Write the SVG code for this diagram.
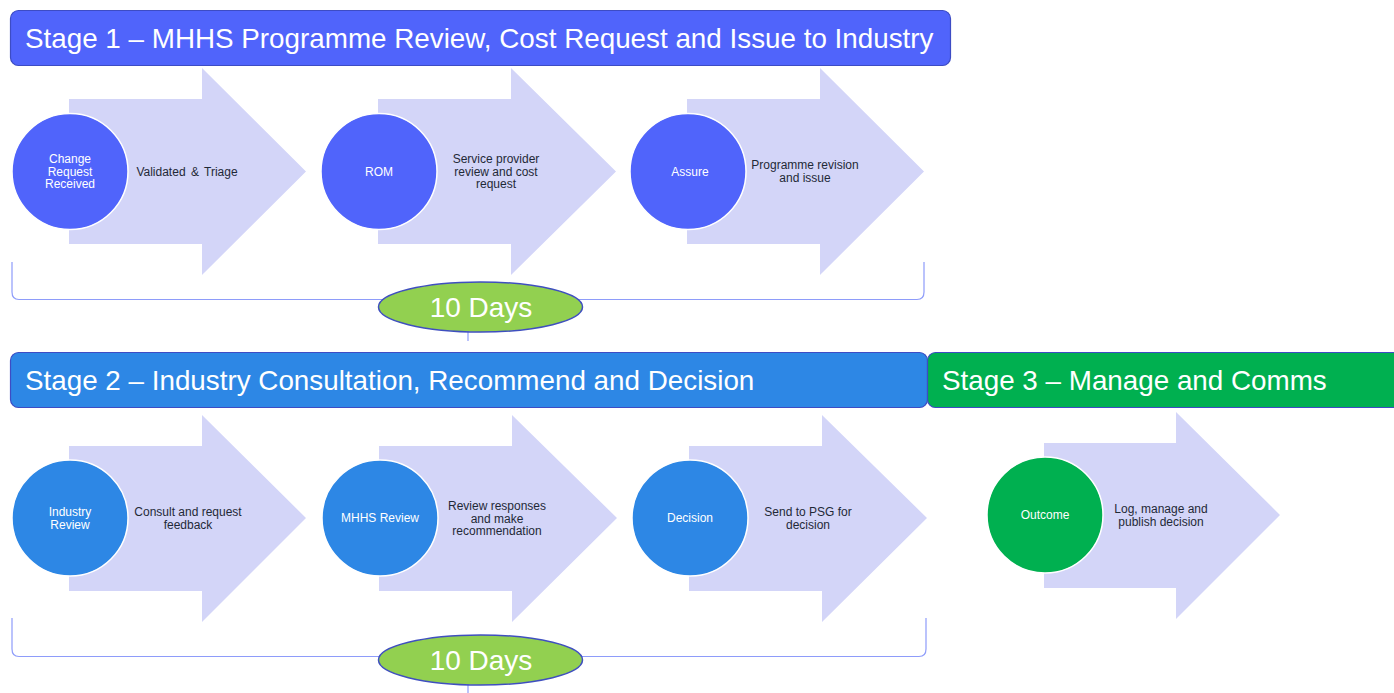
<svg xmlns="http://www.w3.org/2000/svg" width="1394" height="693" viewBox="0 0 1394 693">
<defs>
<style>
.hdr{stroke:#3D4CC4;stroke-width:1.2}
.htxt{font-family:"Liberation Sans",Arial,sans-serif;font-size:27.8px;fill:#fff}
.arr{fill:#D3D5F8}
.circ{stroke:#fff;stroke-width:1.5}
.ctxt{font-family:"Liberation Sans",Arial,sans-serif;font-size:12px;fill:#fff;text-anchor:middle}
.atxt{font-family:"Liberation Sans",Arial,sans-serif;font-size:12px;fill:#1F2937;text-anchor:middle}
.brk{fill:none;stroke:#8E9CFA;stroke-width:1.2}
.ell{fill:#92D050;stroke:#3F4FBF;stroke-width:1.5}
.etxt{font-family:"Liberation Sans",Arial,sans-serif;font-size:28px;fill:#fff;text-anchor:middle}
</style>
</defs>
<rect width="1394" height="693" fill="#fff"/>
<g id="stage1">
<rect class="hdr" x="10.5" y="10.5" width="940" height="55" rx="8" fill="#5064FB"/>
<text class="htxt" x="25" y="48">Stage 1 – MHHS Programme Review, Cost Request and Issue to Industry</text>
</g>
<g id="s1-step1">
<polygon class="arr" points="69,99 202,99 202,68 306,171.5 202,275 202,244 69,244"/>
<circle class="circ" cx="70" cy="171.5" r="58" fill="#5064FB"/>
<text class="ctxt" x="70" y="163">Change</text>
<text class="ctxt" x="70" y="175.5">Request</text>
<text class="ctxt" x="70" y="188">Received</text>
<text class="atxt" x="187" y="175.5" word-spacing="2">Validated &amp; Triage</text>
</g>
<g id="s1-step2">
<polygon class="arr" points="378,99 511,99 511,68 616,171.5 511,275 511,244 378,244"/>
<circle class="circ" cx="379" cy="171.5" r="58" fill="#5064FB"/>
<text class="ctxt" x="379" y="175.5">ROM</text>
<text class="atxt" x="496" y="163">Service provider</text>
<text class="atxt" x="496" y="175.5">review and cost</text>
<text class="atxt" x="496" y="188">request</text>
</g>
<g id="s1-step3">
<polygon class="arr" points="687,99 820,99 820,68 924,171.5 820,275 820,244 687,244"/>
<circle class="circ" cx="688" cy="171.5" r="58" fill="#5064FB"/>
<text class="ctxt" x="690" y="175.5">Assure</text>
<text class="atxt" x="805" y="169">Programme revision</text>
<text class="atxt" x="805" y="182">and issue</text>
</g>
<g id="stage2">
<rect class="hdr" x="10.5" y="352.5" width="917" height="55" rx="8" fill="#2D87E5"/>
<text class="htxt" x="25" y="390">Stage 2 – Industry Consultation, Recommend and Decision</text>
</g>
<g id="stage3">
<rect class="hdr" x="927.5" y="352.5" width="480" height="55" rx="8" fill="#00B050"/>
<text class="htxt" x="942" y="390">Stage 3 – Manage and Comms</text>
</g>
<g id="s2-step1">
<polygon class="arr" points="69,446 202,446 202,415 306,518 202,622 202,591 69,591"/>
<circle class="circ" cx="70" cy="518" r="58" fill="#2D87E5"/>
<text class="ctxt" x="70" y="516">Industry</text>
<text class="ctxt" x="70" y="528.5">Review</text>
<text class="atxt" x="188" y="516">Consult and request</text>
<text class="atxt" x="188" y="528.5">feedback</text>
</g>
<g id="s2-step2">
<polygon class="arr" points="379,446 512,446 512,415 617,518 512,622 512,591 379,591"/>
<circle class="circ" cx="380" cy="518" r="58" fill="#2D87E5"/>
<text class="ctxt" x="380" y="522">MHHS Review</text>
<text class="atxt" x="497" y="510">Review responses</text>
<text class="atxt" x="497" y="522.5">and make</text>
<text class="atxt" x="497" y="535">recommendation</text>
</g>
<g id="s2-step3">
<polygon class="arr" points="689,446 822,446 822,415 927,518 822,622 822,591 689,591"/>
<circle class="circ" cx="690" cy="518" r="58" fill="#2D87E5"/>
<text class="ctxt" x="690" y="522">Decision</text>
<text class="atxt" x="808" y="516">Send to PSG for</text>
<text class="atxt" x="808" y="528.5">decision</text>
</g>
<g id="s3-step1">
<polygon class="arr" points="1044,443 1176,443 1176,412 1280,515 1176,619 1176,588 1044,588"/>
<circle class="circ" cx="1045" cy="515" r="58" fill="#00B050"/>
<text class="ctxt" x="1045" y="518.5">Outcome</text>
<text class="atxt" x="1161" y="513">Log, manage and</text>
<text class="atxt" x="1161" y="525.5">publish decision</text>
</g>
<g id="connectors">
<path class="brk" d="M12,262 L12,292 Q12,299.5 19,299.5 L917,299.5 Q924,299.5 924,292 L924,262"/>
<line class="brk" x1="468" y1="330" x2="468" y2="341"/>
<path class="brk" d="M12,618 L12,649 Q12,656.5 19,656.5 L919,656.5 Q926,656.5 926,649 L926,618"/>
<line class="brk" x1="468" y1="684" x2="468" y2="693"/>
</g>
<g id="duration1">
<ellipse class="ell" cx="480.5" cy="307" rx="102" ry="25"/>
<text class="etxt" x="481" y="317">10 Days</text>
</g>
<g id="duration2">
<ellipse class="ell" cx="480.5" cy="660" rx="102" ry="25"/>
<text class="etxt" x="481" y="670">10 Days</text>
</g>
</svg>
